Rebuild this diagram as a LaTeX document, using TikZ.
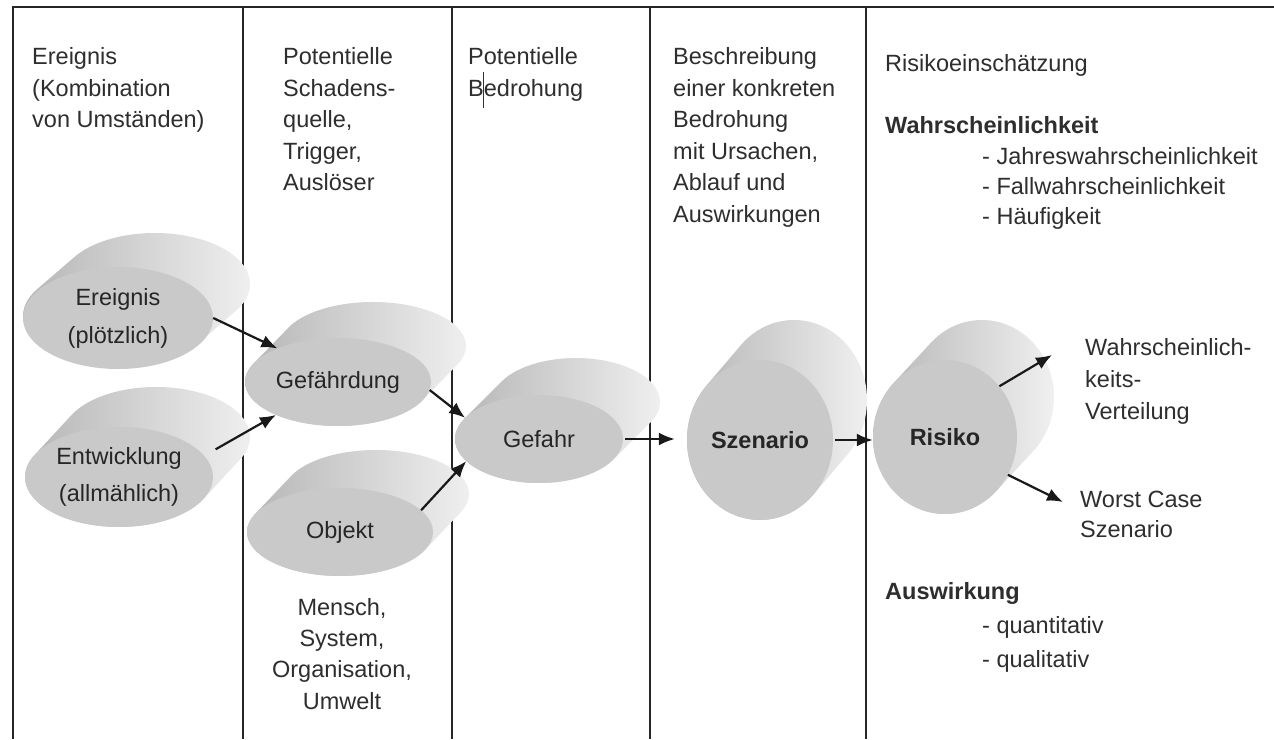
\documentclass[tikz,border=0pt]{standalone}
\usepackage{fontspec}
\setmainfont{Liberation Sans}
\usetikzlibrary{arrows.meta,shapes.geometric}
\newcommand\leftlines[1]{\begin{tabular}[t]{@{}l@{}}#1\end{tabular}}
\newcommand\midlines[1]{\begin{tabular}[t]{@{}c@{}}#1\end{tabular}}
\newcommand\cylbody[6]{%
  \pgfmathsetmacro\cylth{atan(-(#4*#5)/(#3*#6))}%
  \path[cylside] (#1pt,#2pt) ++(\cylth:#3pt and #4pt) -- ++(#5pt,#6pt)
    arc[start angle=\cylth, delta angle=180, x radius=#3pt, y radius=#4pt]
    -- ++(-#5pt,-#6pt)
    arc[start angle=\cylth+180, delta angle=180, x radius=#3pt, y radius=#4pt] -- cycle;}
\tikzset{
  cylside/.style={shade, left color=gray!60, middle color=gray!78, right color=gray!10},
  cylfront/.style={ellipse, fill=gray!42, draw=none, inner sep=0pt, align=center, text=black!85},
  conn/.style={-{Latex[length=16pt,width=13pt]}, line width=2.2pt, black!90},
  txt/.style={inner sep=0pt, anchor=base west, text=black!82},
  frame/.style={line width=1.5pt, black!85}
}
\begin{document}
\begin{tikzpicture}[x=1pt,y=1pt,font=\fontsize{23.5}{31.5}\selectfont]
\useasboundingbox (0,0) rectangle (1274,739);
\fill[white] (0,0) rectangle (1274,739);
% frame
\draw[frame] (13,0) -- (13,732) -- (1274,732);
\draw[frame] (243,0) -- (243,732);
\draw[frame] (452,0) -- (452,732);
\draw[frame] (650,0) -- (650,732);
\draw[frame] (866,0) -- (866,732);
% column headers
\node[txt] (h1) at (32,674) {\leftlines{Ereignis\\(Kombination\\von Umständen)}};
\node[txt] (h2) at (283,674) {\leftlines{Potentielle\\Schadens-\\quelle,\\Trigger,\\Auslöser}};
\node[txt] (h3) at (468,674) {\leftlines{Potentielle\\Bedrohung}};
\draw[line width=1pt, black!80] (483,667) -- (483,631);
\node[txt] (h4) at (673,674) {\leftlines{Beschreibung\\einer konkreten\\Bedrohung\\mit Ursachen,\\Ablauf und\\Auswirkungen}};
\node[txt] (h5) at (885,667) {Risikoeinschätzung};
\node[txt] (w0) at (885,605) {\bfseries Wahrscheinlichkeit};
\node[txt, font=\fontsize{23.5}{30}\selectfont] (w1) at (982,574) {\leftlines{- Jahreswahrscheinlichkeit\\- Fallwahrscheinlichkeit\\- Häufigkeit}};
\node[txt] (a0) at (885,139) {\bfseries Auswirkung};
\node[txt, font=\fontsize{23.5}{34}\selectfont] (a1) at (982,105) {\leftlines{- quantitativ\\- qualitativ}};
\node[inner sep=0pt, anchor=base, text=black!82, font=\fontsize{23.5}{31}\selectfont] (obj) at (342,123) {\midlines{Mensch,\\System,\\Organisation,\\Umwelt}};
% cylinders
\cylbody{118}{423}{95}{51}{37}{32}
\node[cylfront, minimum width=190pt, minimum height=102pt, font=\fontsize{23.5}{38}\selectfont] (E1) at (118,421) {Ereignis\\(plötzlich)};
\cylbody{119}{262}{94}{50}{37}{40}
\node[cylfront, minimum width=188pt, minimum height=100pt, font=\fontsize{23.5}{37}\selectfont] (E2) at (119,262) {Entwicklung\\(allmählich)};
\cylbody{338}{357}{93}{44}{35}{36}
\node[cylfront, minimum width=186pt, minimum height=88pt] (G) at (338,357) {Gefährdung};
\cylbody{340}{207}{93}{44}{36}{38}
\node[cylfront, minimum width=186pt, minimum height=88pt] (O) at (340,207) {Objekt};
\cylbody{539}{300}{84}{44}{37}{37}
\node[cylfront, minimum width=168pt, minimum height=88pt] (F) at (539,300) {Gefahr};
\cylbody{760}{299}{73}{80}{34}{40}
\node[cylfront, minimum width=146pt, minimum height=160pt, font=\fontsize{23.5}{31.5}\bfseries] (S) at (760,299) {Szenario};
\cylbody{945}{302}{72}{77}{37}{40}
\node[cylfront, minimum width=144pt, minimum height=154pt, font=\fontsize{23.5}{31.5}\bfseries] (R) at (945,302) {Risiko};
% right labels
\node[txt, font=\fontsize{23.5}{32}\selectfont] (WVt) at (1085,383) {\leftlines{Wahrscheinlich-\\keits-\\Verteilung}};
\node[txt, font=\fontsize{23.5}{30}\selectfont] (WCt) at (1080,231) {\leftlines{Worst Case\\Szenario}};
\coordinate (WV) at (1052,384);
\coordinate (WC) at (1063,237);
% connectors
\draw[conn] (E1.east) -- (G.151);
\draw[conn, shorten <=13pt] (E2.14) -- (G.208);
\draw[conn] (G.-5) -- (F.164);
\draw[conn] (O.15) -- (F.197);
\draw[conn, shorten <=2pt, shorten >=12pt] (F.east) -- (F.east -| S.west);
\draw[conn, shorten <=2pt] (S.east) -- (S.east -| R.west);
\draw[conn] (R.43) -- (WV);
\draw[conn] (R.-31) -- (WC);
\end{tikzpicture}
\end{document}
